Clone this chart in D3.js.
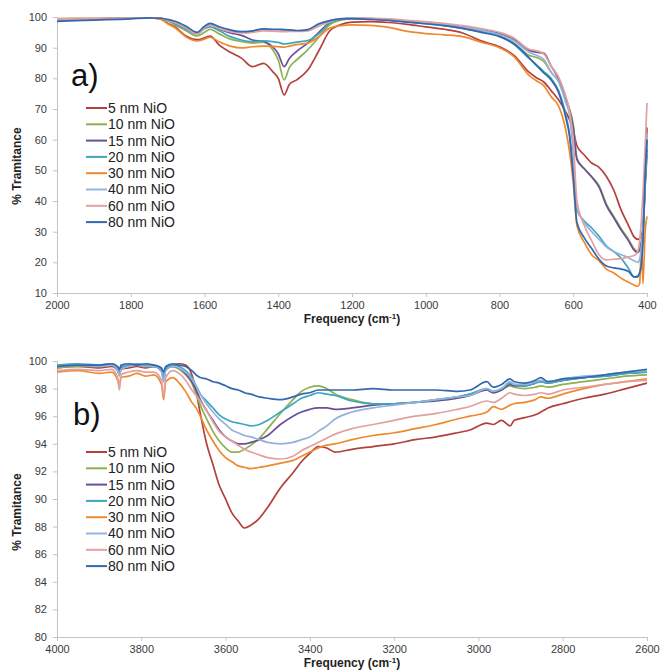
<!DOCTYPE html>
<html>
<head>
<meta charset="utf-8">
<script src="https://cdn.jsdelivr.net/npm/d3@7/dist/d3.min.js"></script>
<style>
  html, body { margin: 0; padding: 0; background: #fff; }
  svg { display: block; font-family: "Liberation Sans", Arial, sans-serif; }
</style>
</head>
<body>
<svg id="chart" width="662" height="672"></svg>
<script>
// ---- series labels ----
const seriesNames = ["5 nm NiO", "10 nm NiO", "15 nm NiO", "20 nm NiO",
                     "30 nm NiO", "40 nm NiO", "60 nm NiO", "80 nm NiO"];

// ---- panel a: 2000–400 cm-1 ----
const topFreq = [2000, 1900, 1800, 1750, 1720, 1700, 1680, 1650, 1620, 1600, 1585, 1560, 1530, 1500,
  1470, 1440, 1415, 1400, 1384, 1370, 1350, 1320, 1290, 1260, 1230, 1200, 1150, 1100, 1050, 1000,
  950, 900, 850, 800, 760, 720, 700, 680, 660, 640, 620, 610, 600, 590, 570, 550, 530, 510, 490,
  470, 450, 435, 425, 420, 415, 411, 405, 400];
const topNiO5 = [99.4, 99.5, 99.6, 99.7, 99.4, 98.0, 96.8, 93.8, 92.6, 93.2, 93.8, 90.8, 88.5, 86.6,
  83.8, 84.9, 82.2, 80.0, 74.6, 78.0, 79.5, 82.7, 89.0, 95.5, 97.5, 98.3, 98.5, 98.2, 97.6, 96.8,
  96.0, 94.8, 92.2, 90.3, 87.4, 82.0, 80.2, 78.8, 76.0, 73.0, 69.0, 66.5, 63.0, 58.0, 55.0, 52.4, 51.0, 48.0, 43.5,
  37.0, 32.0, 28.3, 27.5, 27.8, 29.0, 31.0, 48.0, 64.0];
const topNiO10 = [99.3, 99.4, 99.6, 99.7, 99.6, 98.8, 97.5, 95.5, 93.8, 95.0, 96.0, 94.5, 92.8, 92.0,
  91.5, 91.8, 89.3, 86.0, 79.5, 83.5, 86.0, 89.3, 93.4, 97.5, 99.0, 99.5, 99.4, 99.1, 98.5, 98.0,
  97.3, 96.4, 95.2, 93.8, 91.4, 87.5, 86.8, 85.5, 82.0, 79.0, 73.0, 70.0, 65.0, 54.0, 50.5, 48.0, 45.0, 39.0, 35.0,
  31.0, 27.5, 24.5, 23.5, 24.5, 27.0, 31.0, 45.0, 55.0];
const topNiO15 = [99.2, 99.3, 99.6, 99.7, 99.6, 99.0, 98.0, 96.5, 94.8, 96.5, 97.5, 96.0, 94.8, 94.0,
  92.5, 92.0, 90.3, 88.0, 83.8, 86.5, 88.8, 91.5, 95.0, 98.2, 99.3, 99.6, 99.5, 99.2, 98.6, 98.0,
  97.6, 96.9, 95.8, 94.6, 92.7, 89.2, 88.5, 88.2, 84.0, 80.0, 73.5, 69.5, 64.0, 53.5, 50.5, 47.8, 44.5, 38.5, 34.5,
  30.5, 27.0, 24.0, 23.2, 24.0, 26.5, 30.0, 45.0, 57.0];
const topNiO20 = [99.0, 99.2, 99.6, 99.7, 99.6, 98.8, 97.8, 96.0, 94.5, 96.2, 96.8, 95.5, 93.6, 92.5,
  92.0, 92.2, 92.0, 91.7, 91.2, 91.4, 91.8, 92.3, 94.5, 98.0, 99.2, 99.5, 99.3, 99.0, 98.4, 97.8,
  97.2, 96.3, 95.2, 93.8, 91.0, 86.5, 84.5, 82.2, 80.0, 76.0, 68.0, 62.0, 50.0, 37.0, 33.5, 31.2, 28.5, 25.3, 23.5,
  21.3, 18.0, 15.3, 15.2, 16.5, 20.0, 27.0, 46.0, 60.0];
const topNiO30 = [99.5, 99.5, 99.6, 99.7, 99.3, 97.8, 96.5, 93.5, 92.2, 92.8, 93.4, 91.9, 90.5, 89.9,
  90.3, 90.5, 90.4, 90.3, 90.2, 90.5, 91.0, 91.5, 93.6, 96.4, 97.2, 97.4, 97.3, 96.6, 95.3, 94.6,
  94.2, 93.6, 91.8, 90.0, 87.0, 81.0, 79.2, 77.6, 74.0, 71.0, 63.0, 56.0, 46.0, 32.0, 26.5, 22.5, 20.5, 17.8, 16.5,
  14.8, 13.5, 12.6, 12.2, 13.0, 26.0, 13.0, 30.0, 35.0];
const topNiO40 = [99.1, 99.3, 99.6, 99.7, 99.6, 99.0, 98.2, 96.5, 94.5, 96.5, 97.5, 96.5, 95.5, 95.2,
  95.3, 96.0, 95.8, 95.8, 95.5, 95.6, 95.5, 95.6, 97.5, 98.8, 99.5, 99.7, 99.5, 99.3, 98.7, 98.2,
  97.6, 96.8, 95.7, 94.3, 92.2, 88.5, 87.5, 86.2, 82.0, 79.0, 72.0, 68.0, 55.0, 38.0, 33.0, 30.0, 27.5, 25.0, 23.5,
  22.5, 21.5, 20.5, 20.0, 21.0, 25.0, 31.0, 48.0, 62.0];
const topNiO60 = [99.4, 99.5, 99.6, 99.7, 99.6, 99.0, 98.2, 96.5, 94.5, 96.5, 97.5, 96.2, 95.2, 94.8,
  95.0, 95.5, 95.4, 95.3, 95.2, 95.3, 95.3, 95.5, 97.0, 98.5, 99.4, 99.6, 99.6, 99.4, 98.9, 98.5,
  97.9, 97.2, 96.2, 95.0, 93.1, 89.5, 89.0, 88.0, 84.0, 80.5, 74.0, 69.5, 60.0, 40.0, 32.0, 27.0, 22.5, 20.8, 21.0,
  21.2, 21.8, 22.2, 23.5, 27.0, 34.0, 42.0, 58.0, 72.0];
const topNiO80 = [98.6, 99.0, 99.4, 99.7, 99.6, 99.2, 98.6, 97.0, 95.0, 97.0, 97.9, 96.8, 95.8, 95.2,
  95.5, 96.1, 96.0, 96.0, 95.9, 95.8, 95.6, 95.9, 97.8, 98.8, 99.4, 99.5, 99.2, 98.9, 98.3, 97.8,
  97.2, 96.3, 95.0, 93.6, 91.2, 86.8, 84.2, 81.8, 79.5, 75.5, 67.0, 61.0, 48.0, 33.0, 28.0, 24.5, 21.0, 18.8, 18.2,
  17.8, 17.0, 15.2, 15.5, 16.5, 19.5, 27.0, 48.0, 60.0];

// ---- panel b: 4000–2600 cm-1 ----
const botFreq = [4000, 3950, 3900, 3870, 3856, 3852, 3848, 3830, 3810, 3790, 3770, 3752, 3747, 3742,
  3725, 3710, 3695, 3680, 3670, 3660, 3645, 3630, 3615, 3600, 3585, 3570, 3555, 3540, 3520, 3500,
  3470, 3440, 3420, 3400, 3380, 3360, 3340, 3300, 3250, 3200, 3150, 3100, 3050, 3020, 2980, 2965,
  2945, 2925, 2915, 2890, 2865, 2852, 2835, 2800, 2750, 2700, 2650, 2600];
const botNiO5 = [99.5, 99.6, 99.5, 99.6, 99.3, 99.0, 99.4, 99.5, 99.6, 99.5, 99.6, 99.3, 98.8, 99.5,
  99.7, 99.8, 99.7, 99.0, 97.8, 96.2, 94.0, 92.5, 91.0, 90.0, 89.0, 88.4, 87.9, 88.1, 88.6, 89.4,
  90.8, 91.9, 92.7, 93.3, 93.8, 93.7, 93.4, 93.6, 93.8, 94.0, 94.3, 94.5, 94.8, 95.0, 95.5, 95.4,
  95.7, 95.3, 95.7, 95.9, 96.1, 96.3, 96.6, 96.9, 97.3, 97.6, 98.0, 98.4];
const botNiO10 = [99.5, 99.6, 99.6, 99.7, 99.4, 99.0, 99.5, 99.6, 99.7, 99.6, 99.6, 99.3, 98.6, 99.4,
  99.6, 99.4, 99.0, 98.4, 97.6, 96.8, 95.8, 94.9, 94.2, 93.7, 93.4, 93.4, 93.6, 93.9, 94.4, 95.1,
  96.2, 97.2, 97.8, 98.1, 98.2, 98.0, 97.6, 97.2, 96.9, 96.9, 97.0, 97.2, 97.4, 97.6, 97.9, 97.7,
  97.9, 98.2, 98.1, 98.0, 98.1, 98.2, 98.1, 98.3, 98.5, 98.7, 98.9, 99.0];
const botNiO15 = [99.6, 99.7, 99.6, 99.7, 99.4, 99.1, 99.5, 99.7, 99.7, 99.6, 99.6, 99.3, 98.7, 99.4,
  99.6, 99.5, 99.1, 98.5, 97.9, 97.2, 96.4, 95.7, 95.0, 94.5, 94.2, 94.0, 94.0, 94.1, 94.3, 94.6,
  95.4, 96.0, 96.3, 96.5, 96.6, 96.6, 96.5, 96.6, 96.8, 96.9, 97.0, 97.1, 97.3, 97.5, 97.9, 97.7,
  97.9, 98.3, 98.2, 98.2, 98.4, 98.5, 98.4, 98.6, 98.8, 98.9, 99.1, 99.2];
const botNiO20 = [99.7, 99.8, 99.7, 99.8, 99.5, 99.2, 99.6, 99.7, 99.8, 99.7, 99.7, 99.4, 98.8, 99.5,
  99.7, 99.6, 99.3, 98.8, 98.2, 97.6, 97.1, 96.6, 96.1, 95.8, 95.6, 95.5, 95.4, 95.3, 95.4, 95.7,
  96.3, 96.9, 97.3, 97.5, 97.7, 97.6, 97.5, 97.1, 96.9, 96.9, 97.0, 97.2, 97.4, 97.6, 98.0, 97.8,
  98.0, 98.4, 98.3, 98.2, 98.4, 98.5, 98.4, 98.6, 98.8, 98.9, 99.1, 99.2];
const botNiO30 = [99.2, 99.3, 99.1, 99.2, 98.6, 98.2, 98.8, 98.9, 99.1, 98.9, 99.0, 98.3, 97.2, 98.5,
  98.8, 98.4, 97.8, 97.0, 96.6, 96.0, 95.0, 94.2, 93.5, 93.0, 92.7, 92.4, 92.3, 92.2, 92.3, 92.4,
  92.6, 92.8, 93.1, 93.4, 93.7, 93.9, 94.0, 94.3, 94.6, 94.8, 95.1, 95.4, 95.8, 96.0, 96.3, 96.7,
  96.5, 96.8, 96.9, 97.0, 97.2, 97.4, 97.3, 97.6, 98.0, 98.3, 98.5, 98.7];
const botNiO40 = [99.6, 99.7, 99.6, 99.7, 99.3, 98.9, 99.4, 99.6, 99.7, 99.6, 99.6, 99.2, 98.5, 99.3,
  99.6, 99.5, 99.2, 98.7, 98.2, 97.6, 96.9, 96.3, 95.8, 95.4, 95.0, 94.8, 94.6, 94.5, 94.3, 94.1,
  94.0, 94.1, 94.3, 94.5, 94.9, 95.3, 95.8, 96.3, 96.6, 96.8, 97.0, 97.2, 97.4, 97.5, 98.0, 97.8,
  98.0, 98.5, 98.3, 98.3, 98.5, 98.6, 98.5, 98.7, 98.9, 99.0, 99.2, 99.3];
const botNiO60 = [99.3, 99.4, 99.3, 99.4, 98.8, 97.9, 99.0, 99.2, 99.3, 99.2, 99.2, 98.6, 97.4, 98.8,
  99.3, 99.1, 98.6, 97.9, 97.5, 97.1, 96.4, 95.6, 94.9, 94.5, 94.2, 93.9, 93.6, 93.4, 93.2, 93.0,
  92.9, 93.1, 93.5, 93.8, 94.1, 94.4, 94.7, 95.1, 95.4, 95.7, 96.0, 96.2, 96.5, 96.7, 97.1, 97.0,
  97.3, 97.7, 97.6, 97.5, 97.6, 97.7, 97.6, 97.9, 98.1, 98.3, 98.5, 98.6];
const botNiO80 = [99.6, 99.7, 99.7, 99.8, 99.6, 99.4, 99.7, 99.8, 99.7, 99.8, 99.7, 99.5, 99.2, 99.6,
  99.8, 99.7, 99.6, 99.3, 99.0, 98.8, 98.7, 98.5, 98.4, 98.2, 98.0, 97.9, 97.7, 97.6, 97.4, 97.3,
  97.2, 97.4, 97.6, 97.7, 97.9, 97.9, 97.9, 97.9, 98.0, 97.9, 97.9, 97.9, 97.8, 97.9, 98.5, 98.1,
  98.3, 98.7, 98.5, 98.4, 98.6, 98.8, 98.5, 98.7, 98.8, 99.0, 99.2, 99.4];

// ---- axis ticks ----
const topXTicks = [2000, 1800, 1600, 1400, 1200, 1000, 800, 600, 400];
const topYTicks = [10, 20, 30, 40, 50, 60, 70, 80, 90, 100];
const botXTicks = [4000, 3800, 3600, 3400, 3200, 3000, 2800, 2600];
const botYTicks = [80, 82, 84, 86, 88, 90, 92, 94, 96, 98, 100];

// ---- styling ----
const seriesColors = ["#B3403C", "#8DB150", "#6A4E9A", "#3EA6BE",
                      "#EE8A2E", "#93B3DC", "#E3A0A0", "#3468AE"];

const svg = d3.select("#chart");

function drawPanel(opt) {
  const x = d3.scaleLinear().domain(opt.xDomain).range([57, 647]);
  const y = d3.scaleLinear().domain(opt.yDomain).range([opt.bottom, opt.top]);
  const g = svg.append("g");

  // x axis
  const xAxis = g.append("g")
    .attr("transform", `translate(0,${opt.bottom})`)
    .call(d3.axisBottom(x).tickValues(opt.xTicks).tickSize(4).tickPadding(4).tickFormat(d3.format("d")));
  // y axis
  const yAxis = g.append("g")
    .attr("transform", "translate(57,0)")
    .call(d3.axisLeft(y).tickValues(opt.yTicks).tickSize(4).tickPadding(6).tickFormat(d3.format("d")));

  [xAxis, yAxis].forEach(a => {
    a.select(".domain").attr("stroke", "#c4c4c4").attr("stroke-width", 1);
    a.selectAll(".tick line").attr("stroke", "#c4c4c4");
    a.selectAll(".tick text").attr("fill", "#3a3a3a")
      .style("font-family", "'Liberation Sans', Arial, sans-serif").style("font-size", "11px");
  });

  // axis titles
  const xt = g.append("text")
    .attr("x", 352).attr("y", opt.bottom + 30)
    .attr("text-anchor", "middle")
    .attr("fill", "#222").style("font-size", "12px").style("font-weight", "bold");
  xt.append("tspan").text("Frequency (cm");
  xt.append("tspan").text("-1").attr("dy", -4).style("font-size", "8px");
  xt.append("tspan").text(")").attr("dy", 4);

  g.append("text")
    .attr("transform", `translate(21,${opt.titleY}) rotate(-90)`)
    .attr("text-anchor", "middle")
    .attr("fill", "#222").style("font-size", "12px").style("font-weight", "bold")
    .text("% Tramitance");

  // spectra
  const line = d3.line()
    .x((d, i) => x(opt.freq[i]))
    .y(d => y(d))
    .curve(d3.curveMonotoneX);

  opt.series.forEach((vals, i) => {
    g.append("path")
      .attr("d", line(vals))
      .attr("fill", "none")
      .attr("stroke", seriesColors[i])
      .attr("stroke-width", 1.7)
      .attr("stroke-linejoin", "round");
  });

  // panel letter
  g.append("text")
    .attr("x", opt.letterX).attr("y", opt.letterY)
    .attr("fill", "#111").style("font-size", "31px")
    .text(opt.letter);

  // legend
  const lg = g.append("g");
  seriesNames.forEach((name, i) => {
    const yy = opt.legendY + i * 16.3;
    lg.append("line")
      .attr("x1", 86).attr("x2", 107).attr("y1", yy).attr("y2", yy)
      .attr("stroke", seriesColors[i]).attr("stroke-width", 2);
    lg.append("text")
      .attr("x", 108).attr("y", yy).attr("dy", "0.35em")
      .attr("fill", "#222").style("font-size", "14px")
      .text(name);
  });
}

drawPanel({
  xDomain: [2000, 400], yDomain: [10, 100], top: 17, bottom: 293,
  xTicks: topXTicks, yTicks: topYTicks, freq: topFreq,
  series: [topNiO5, topNiO10, topNiO15, topNiO20, topNiO30, topNiO40, topNiO60, topNiO80],
  titleY: 166, letter: "a)", letterX: 71, letterY: 86, legendY: 108
});

drawPanel({
  xDomain: [4000, 2600], yDomain: [80, 100], top: 361, bottom: 637,
  xTicks: botXTicks, yTicks: botYTicks, freq: botFreq,
  series: [botNiO5, botNiO10, botNiO15, botNiO20, botNiO30, botNiO40, botNiO60, botNiO80],
  titleY: 512, letter: "b)", letterX: 73, letterY: 425, legendY: 452
});
</script>
</body>
</html>
